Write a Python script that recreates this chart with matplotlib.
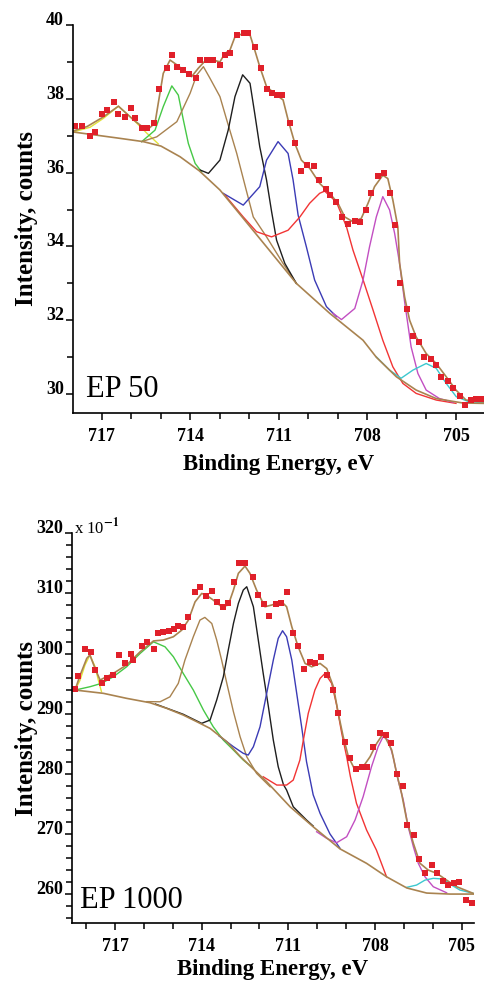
import matplotlib.pyplot as plt
from matplotlib.ticker import MultipleLocator

plt.rcParams['font.family'] = ['Liberation Serif', 'DejaVu Serif']
plt.rcParams['font.weight'] = 'bold'
plt.rcParams['mathtext.fontset'] = 'stix'

# ---------------- EP 50 (top panel) ----------------
ep50_points = [
    (717.92, 37.26), (717.66, 37.26), (717.42, 36.99), (717.23, 37.11), (717.0, 37.6),
    (716.83, 37.7), (716.6, 37.92), (716.44, 37.6), (716.21, 37.51), (716.0, 37.74),
    (715.87, 37.47), (715.65, 37.2), (715.48, 37.2), (715.23, 37.34), (715.05, 38.26),
    (714.8, 38.83), (714.63, 39.19), (714.44, 38.87), (714.24, 38.78), (714.04, 38.67),
    (713.81, 38.56), (713.67, 39.05), (713.45, 39.05), (713.23, 39.05), (713.0, 38.92),
    (712.83, 39.19), (712.66, 39.25), (712.43, 39.73), (712.2, 39.77), (712.04, 39.77),
    (711.82, 39.4), (711.62, 38.83), (711.42, 38.26), (711.25, 38.15), (711.08, 38.1),
    (710.88, 38.1), (710.63, 37.35), (710.46, 36.79), (710.24, 36.05), (710.05, 36.2),
    (709.82, 36.19), (709.64, 35.8), (709.41, 35.57), (709.26, 35.39), (709.05, 35.21),
    (708.85, 34.8), (708.66, 34.61), (708.43, 34.7), (708.24, 34.67), (708.04, 34.99),
    (707.87, 35.46), (707.65, 35.91), (707.45, 36.0), (707.23, 35.44), (707.05, 34.58),
    (706.88, 33.0), (706.66, 32.31), (706.46, 31.57), (706.24, 31.4), (706.07, 31.01),
    (705.84, 30.94), (705.67, 30.79), (705.5, 30.47), (705.28, 30.36), (705.09, 30.17),
    (704.85, 29.95), (704.68, 29.7), (704.49, 29.84), (704.32, 29.86), (704.12, 29.86),
]
ep50_envelope = [
    (718.0, 37.12), (717.5, 37.25), (716.95, 37.51), (716.44, 37.8), (715.93, 37.43),
    (715.48, 37.15), (715.2, 37.34), (715.09, 37.88), (714.92, 38.69), (714.69, 39.05),
    (714.46, 38.92), (714.18, 38.74), (713.96, 38.6), (713.73, 38.83), (713.5, 39.03),
    (713.23, 39.05), (713.0, 39.0), (712.83, 39.23), (712.66, 39.32), (712.49, 39.68),
    (712.21, 39.77), (711.98, 39.73), (711.82, 39.32), (711.65, 38.87), (711.42, 38.33),
    (711.08, 38.1), (710.86, 37.97), (710.69, 37.43), (710.46, 36.79), (710.24, 36.34),
    (709.96, 36.12), (709.62, 35.71), (709.28, 35.44), (709.0, 35.17), (708.77, 34.8),
    (708.49, 34.67), (708.21, 34.76), (707.98, 35.17), (707.76, 35.62), (707.48, 35.93),
    (707.31, 35.84), (707.14, 35.26), (706.97, 34.53), (706.91, 33.54), (706.74, 32.63),
    (706.57, 32.0), (706.35, 31.55), (706.01, 31.1), (705.67, 30.83), (705.33, 30.47),
    (705.0, 30.11), (704.66, 29.84), (704.07, 29.79),
]
ep50_background = [
    (717.97, 37.1), (716.4, 36.93), (715.6, 36.84), (715.0, 36.72), (714.35, 36.43),
    (713.7, 36.05), (713.0, 35.53), (712.3, 34.85), (711.42, 33.99), (710.41, 33.0),
    (709.28, 32.19), (708.15, 31.46), (707.7, 31.0), (707.02, 30.47), (706.35, 30.11),
    (705.67, 29.88), (704.77, 29.76), (704.07, 29.75),
]
ep50_yellow = [(717.97, 37.1), (717.4, 37.23), (716.95, 37.47), (716.44, 37.8),
               (715.93, 37.43), (715.48, 37.07), (715.09, 36.78)]
ep50_green = [(715.65, 36.84), (715.2, 37.15), (714.92, 37.79), (714.63, 38.35),
              (714.41, 38.1), (714.24, 37.43), (714.07, 36.79), (713.84, 36.25), (713.62, 36.02)]
ep50_brown = [(715.65, 36.84), (715.14, 36.97), (714.46, 37.38), (714.01, 38.15),
              (713.79, 38.64), (713.56, 38.87), (713.34, 38.56), (713.0, 38.06),
              (712.77, 37.43), (712.43, 36.52), (712.1, 35.5), (711.87, 34.8),
              (711.42, 34.26), (710.86, 33.54), (710.41, 33.0)]
ep50_black = [(713.67, 36.07), (713.39, 35.98), (713.0, 36.34), (712.72, 37.15),
              (712.49, 38.06), (712.23, 38.65), (711.98, 38.42), (711.82, 37.6),
              (711.65, 36.7), (711.42, 35.8), (711.25, 34.95), (711.08, 34.17),
              (710.8, 33.54), (710.41, 33.0)]
ep50_blue = [(712.89, 35.44), (712.21, 35.12), (711.65, 35.62), (711.42, 36.34),
             (711.03, 36.84), (710.69, 36.52), (710.52, 35.8), (710.35, 34.85),
             (710.07, 33.99), (709.79, 33.09), (709.39, 32.37), (709.05, 32.1)]
ep50_red = [(712.83, 35.39), (712.21, 34.8), (711.76, 34.4), (711.25, 34.26),
            (710.69, 34.44), (710.29, 34.8), (709.96, 35.17), (709.62, 35.44),
            (709.45, 35.5), (709.05, 35.2), (708.71, 34.53), (708.49, 33.9),
            (708.15, 33.1), (707.82, 32.3), (707.48, 31.46), (707.14, 30.74),
            (706.8, 30.29), (706.35, 30.02), (705.67, 29.84), (705.0, 29.75)]
ep50_magenta = [(709.17, 32.19), (708.88, 32.02), (708.43, 32.32), (708.15, 33.09),
                (707.93, 33.99), (707.7, 34.8), (707.48, 35.35), (707.25, 34.99),
                (707.08, 34.36), (706.91, 33.54), (706.74, 32.5), (706.52, 31.28),
                (706.29, 30.56), (706.01, 30.11), (705.56, 29.88), (705.1, 29.78)]
ep50_cyan = [(707.7, 31.01), (707.25, 30.65), (706.86, 30.43), (706.46, 30.65),
             (706.01, 30.83), (705.67, 30.7), (705.33, 30.29), (704.99, 29.93),
             (704.55, 29.79), (704.07, 29.77)]

# ---------------- EP 1000 (bottom panel) ----------------
ep1000_points = [
    (718.38, 294.04), (718.27, 296.25), (718.04, 300.7), (717.84, 300.3), (717.69, 297.25),
    (717.46, 295.04), (717.29, 295.87), (717.06, 296.42), (716.85, 299.75), (716.65, 298.47),
    (716.46, 299.92), (716.37, 298.92), (716.08, 301.25), (715.88, 301.96), (715.65, 300.7),
    (715.5, 303.46), (715.33, 303.63), (715.12, 303.8), (714.96, 304.03), (714.81, 304.58),
    (714.64, 304.36), (714.46, 306.02), (714.23, 310.28), (714.06, 311.12), (713.85, 309.57),
    (713.65, 310.45), (713.48, 308.62), (713.27, 307.79), (713.08, 308.45), (712.88, 311.95),
    (712.7, 315.0), (712.5, 315.1), (712.23, 312.78), (712.04, 309.73), (711.84, 308.24),
    (711.66, 306.24), (711.43, 308.24), (711.26, 308.45), (711.06, 310.18), (710.85, 303.46),
    (710.66, 301.25), (710.46, 297.37), (710.25, 298.64), (710.08, 298.47), (709.87, 299.37),
    (709.67, 296.42), (709.44, 293.93), (709.27, 290.15), (709.04, 285.33), (708.87, 282.56),
    (708.66, 280.73), (708.46, 281.17), (708.27, 281.17), (708.06, 284.39), (707.83, 286.82),
    (707.62, 286.44), (707.46, 285.1), (707.24, 280.0), (707.04, 277.95), (706.88, 271.46),
    (706.64, 269.8), (706.47, 265.76), (706.27, 263.53), (706.04, 264.81), (705.86, 263.53),
    (705.66, 262.2), (705.46, 261.48), (705.27, 261.86), (705.08, 262.03), (704.85, 258.99),
    (704.65, 258.54),
]
ep1000_envelope = [
    (718.38, 294.0), (718.21, 296.4), (717.98, 299.2), (717.87, 299.75), (717.69, 297.5),
    (717.52, 295.6), (717.06, 296.7), (716.6, 298.1), (716.13, 300.3), (715.67, 302.1),
    (715.33, 302.25), (714.98, 302.8), (714.69, 303.9), (714.46, 305.57), (714.23, 308.6),
    (714.0, 310.0), (713.83, 309.7), (713.6, 308.9), (713.31, 307.8), (713.08, 308.07),
    (712.9, 310.57), (712.73, 313.35), (712.5, 314.56), (712.33, 313.35), (712.1, 310.57),
    (711.81, 307.79), (711.58, 308.07), (711.23, 308.6), (711.06, 307.79), (710.88, 304.46),
    (710.66, 301.13), (710.42, 298.36), (710.19, 297.8), (709.9, 298.36), (709.67, 297.5),
    (709.44, 294.48), (709.27, 290.05), (709.1, 286.16), (708.92, 282.83), (708.69, 280.6),
    (708.41, 281.17), (708.17, 282.83), (707.94, 285.05), (707.71, 286.72), (707.42, 283.94),
    (707.25, 280.07), (707.08, 276.74), (706.9, 272.3), (706.67, 268.42), (706.44, 265.1),
    (706.16, 263.98), (705.86, 263.43), (705.52, 262.3), (705.17, 261.2), (704.6, 260.1),
]
ep1000_background = [
    (718.38, 293.93), (717.4, 293.38), (716.6, 292.55), (715.79, 291.82), (715.21, 290.88),
    (714.64, 289.77), (714.17, 288.66), (713.71, 287.55), (713.13, 285.33), (712.67, 282.9),
    (711.75, 278.67), (710.94, 274.51), (710.14, 271.18), (709.21, 267.5), (708.29, 265.09),
    (707.6, 262.86), (706.9, 261.0), (706.21, 260.15), (705.4, 259.98), (704.57, 259.98),
]
ep1000_yellow = [(718.38, 293.93), (718.21, 295.6), (718.04, 298.1), (717.87, 299.75),
                 (717.69, 297.8), (717.58, 295.6), (717.47, 293.65)]
ep1000_green = [(718.38, 293.93), (717.87, 294.48), (717.47, 295.04), (717.06, 296.14),
                (716.6, 297.8), (716.13, 300.03), (715.67, 301.96), (715.27, 301.13),
                (714.98, 299.47), (714.64, 296.7), (714.29, 293.93), (713.94, 290.6),
                (713.6, 287.82), (713.25, 285.6), (712.9, 283.94), (712.56, 282.28),
                (712.21, 280.9)]
ep1000_brown = [(715.9, 292.0), (715.44, 291.98), (715.1, 292.8), (714.81, 295.04),
                (714.58, 298.92), (714.29, 302.8), (714.06, 305.57), (713.89, 306.02),
                (713.65, 305.0), (713.48, 302.25), (713.31, 298.92), (713.13, 295.04),
                (712.9, 290.3), (712.67, 286.16), (712.44, 282.83), (712.1, 280.07),
                (711.63, 277.84)]
ep1000_black = [(715.6, 291.6), (714.64, 289.9), (714.0, 288.39), (713.71, 288.94),
                (713.48, 292.27), (713.25, 296.14), (713.08, 300.58), (712.9, 305.02),
                (712.73, 308.35), (712.56, 310.57), (712.44, 311.12), (712.21, 307.79),
                (712.04, 302.25), (711.87, 296.7), (711.69, 291.15), (711.52, 285.6),
                (711.35, 281.17), (711.17, 278.2), (711.06, 277.29), (710.83, 274.51),
                (710.37, 272.3), (710.14, 271.3)]
ep1000_blue = [(713.4, 286.3), (712.9, 284.5), (712.56, 283.4), (712.39, 283.11),
               (712.21, 284.5), (711.98, 287.82), (711.75, 293.38), (711.52, 298.92),
               (711.35, 302.53), (711.2, 303.8), (711.06, 302.8), (710.88, 298.92),
               (710.71, 293.38), (710.54, 287.82), (710.37, 282.0), (710.14, 276.5),
               (709.9, 273.4), (709.56, 270.0), (709.21, 267.6)]
ep1000_red = [(711.87, 279.5), (711.4, 278.12), (711.06, 278.12), (710.83, 278.95),
              (710.6, 282.28), (710.48, 285.6), (710.31, 290.05), (710.08, 293.93),
              (709.9, 295.87), (709.73, 296.7), (709.5, 295.04), (709.33, 291.5),
              (709.15, 286.72), (708.98, 282.83), (708.85, 279.5), (708.64, 275.07),
              (708.29, 270.63), (707.95, 267.3), (707.6, 262.86)]
ep1000_magenta = [(710.02, 270.35), (709.67, 269.25), (709.33, 268.52), (708.98, 269.52),
                  (708.69, 272.3), (708.41, 276.18), (708.12, 281.17), (707.89, 284.5),
                  (707.72, 286.16), (707.54, 285.6), (707.37, 282.83), (707.2, 278.95),
                  (707.02, 275.63), (706.85, 271.18), (706.67, 267.85), (706.5, 265.1),
                  (706.27, 262.86), (705.98, 261.2), (705.52, 260.2)]
ep1000_cyan = [(706.9, 261.1), (706.56, 261.48), (706.27, 262.3), (705.98, 262.6),
               (705.64, 262.48), (705.35, 261.48), (705.06, 260.65), (704.6, 260.1)]

BROWN = '#a98350'
comp_colors = {'yellow': '#e2e23a', 'green': '#46c846', 'brown': BROWN, 'black': '#1e1e1e',
               'blue': '#3b3bb5', 'red': '#f23434', 'magenta': '#c24fc2', 'cyan': '#3cc8cf'}


def xy(pairs):
    return [p[0] for p in pairs], [p[1] for p in pairs]


def draw_panel(ax, comps, envelope, background, points, xlim, ylim, ymaj, ymin, tag, xlab_y):
    for name, pts in comps:
        ax.plot(*xy(pts), color=comp_colors[name], lw=1.0)
    ax.plot(*xy(background), color=BROWN, lw=1.2)
    ax.plot(*xy(envelope), color=BROWN, lw=1.2)
    ax.plot(*xy(points), ls='none', marker='s', ms=4.9, color='#e0202a', mew=0)

    ax.set_xlim(*xlim)
    ax.set_ylim(*ylim)
    for s in ('top', 'right'):
        ax.spines[s].set_visible(False)
    for s in ('left', 'bottom'):
        ax.spines[s].set_linewidth(1.2)
    ax.xaxis.set_major_locator(MultipleLocator(3))
    ax.xaxis.set_minor_locator(MultipleLocator(1))
    ax.yaxis.set_major_locator(MultipleLocator(ymaj))
    ax.yaxis.set_minor_locator(MultipleLocator(ymin))
    ax.tick_params(which='major', direction='out', length=5, width=1.1, labelsize=13)
    ax.tick_params(which='minor', direction='out', length=4, width=1.1)
    ax.tick_params(axis='x', pad=6)
    ax.tick_params(axis='y', pad=1.5)
    plt.setp(ax.get_yticklabels(), va='baseline')

    ax.text(-0.112, 0.5, 'Intensity, counts', transform=ax.transAxes, rotation=90,
            ha='center', va='center', fontsize=18)
    ax.text(0.5, xlab_y, 'Binding Energy, eV', transform=ax.transAxes,
            ha='center', va='center', fontsize=16.5)
    ax.text(tag[1], tag[2], tag[0], transform=ax.transAxes, fontsize=22,
            fontweight='normal', va='baseline', ha='left')


fig = plt.figure(figsize=(4.84, 9.83), dpi=100)
ax1 = fig.add_axes([0.1508, 0.5799, 0.8492, 0.3947])
ax2 = fig.add_axes([0.1488, 0.0610, 0.8306, 0.3964])

draw_panel(ax1,
           [('yellow', ep50_yellow), ('green', ep50_green), ('brown', ep50_brown),
            ('black', ep50_black), ('blue', ep50_blue), ('red', ep50_red),
            ('magenta', ep50_magenta), ('cyan', ep50_cyan)],
           ep50_envelope, ep50_background, ep50_points,
           (717.98, 704.05), (29.49, 40.0), 2, 1, ('EP 50', 0.032, 0.041), -0.134)

draw_panel(ax2,
           [('yellow', ep1000_yellow), ('green', ep1000_green), ('brown', ep1000_brown),
            ('black', ep1000_black), ('blue', ep1000_blue), ('red', ep1000_red),
            ('magenta', ep1000_magenta), ('cyan', ep1000_cyan)],
           ep1000_envelope, ep1000_background, ep1000_points,
           (718.49, 704.57), (255.16, 320.0), 10, 2, ('EP 1000', 0.02, 0.038), -0.118)

ax2.text(0.006, 1.0, r'x 10$^{-1}$', transform=ax2.transAxes, fontsize=12,
         fontweight='normal', va='baseline', ha='left')

fig.savefig('out.png', dpi=100)
